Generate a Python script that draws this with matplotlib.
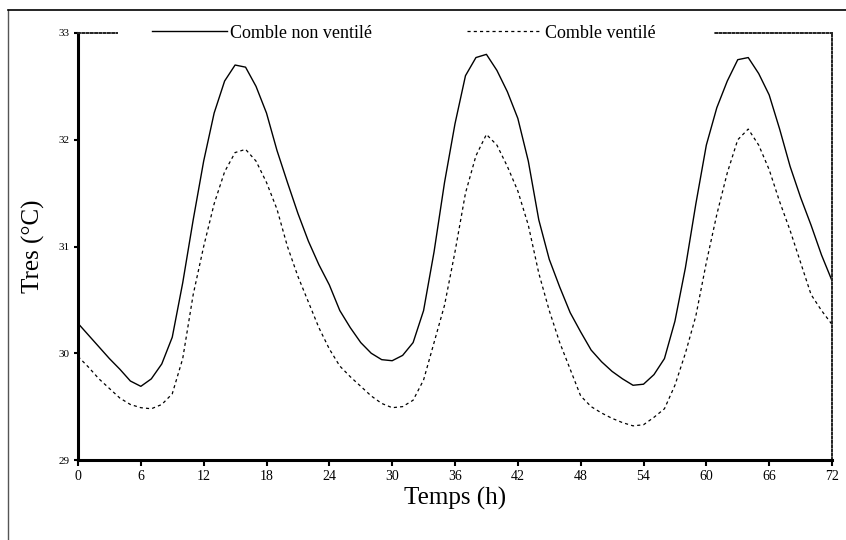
import matplotlib.pyplot as plt
from matplotlib.lines import Line2D
from matplotlib.patches import Rectangle

# hourly readings, 0 to 72 h
hours = list(range(0, 73))

non_ventile = [30.28, 30.17, 30.06, 29.95, 29.85, 29.74, 29.69, 29.76, 29.90, 30.15,
               30.66, 31.25, 31.80, 32.25, 32.55, 32.70, 32.68, 32.50, 32.25, 31.90,
               31.60, 31.31, 31.05, 30.83, 30.64, 30.40, 30.24, 30.10, 30.00, 29.94,
               29.93, 29.98, 30.10, 30.40, 30.95, 31.60, 32.15, 32.60, 32.77, 32.80,
               32.65, 32.45, 32.20, 31.80, 31.25, 30.88, 30.62, 30.38, 30.20, 30.03,
               29.92, 29.83, 29.76, 29.70, 29.71, 29.80, 29.95, 30.30, 30.80, 31.40,
               31.95, 32.30, 32.55, 32.75, 32.77, 32.62, 32.42, 32.10, 31.75, 31.46,
               31.20, 30.92, 30.68]

ventile = [29.97, 29.87, 29.76, 29.67, 29.58, 29.52, 29.49, 29.48, 29.52, 29.62,
           29.95, 30.55, 31.00, 31.40, 31.70, 31.88, 31.91, 31.80, 31.60, 31.35,
           31.00, 30.72, 30.48, 30.24, 30.04, 29.88, 29.78, 29.69, 29.60, 29.53,
           29.49, 29.50, 29.56, 29.75, 30.10, 30.45, 30.95, 31.50, 31.85, 32.05,
           31.95, 31.75, 31.52, 31.20, 30.75, 30.40, 30.10, 29.85, 29.60, 29.50,
           29.44, 29.39, 29.35, 29.32, 29.33, 29.40, 29.48, 29.70, 30.00, 30.35,
           30.85, 31.30, 31.69, 32.00, 32.10, 31.95, 31.72, 31.42, 31.15, 30.85,
           30.55, 30.40, 30.27]

x_ticks = list(range(0, 73, 6))
y_ticks = [29, 30, 31, 32, 33]

plt.rcParams['font.family'] = ['Liberation Serif', 'DejaVu Serif']

fig = plt.figure(figsize=(8.46, 5.4), dpi=100)
ax = fig.add_axes([78 / 846, 1 - 460 / 540, 754 / 846, 427 / 540])

ax.plot(hours, non_ventile, color='black', lw=1.0, label='Comble non ventilé')
ax.plot(hours, ventile, color='black', lw=0.9, dashes=(2.5, 2.5), label='Comble ventilé')

ax.set_xlim(0, 72)
ax.set_ylim(29, 33)
ax.set_xticks(x_ticks)
ax.set_yticks(y_ticks)
ax.tick_params(axis='x', direction='out', length=4, width=1.5, labelsize=10, pad=3)
ax.tick_params(axis='y', direction='out', length=3, width=1.5, labelsize=8, pad=3)

for side in ['left', 'bottom']:
    ax.spines[side].set_linewidth(2.2)
for side in ['top', 'right']:
    ax.spines[side].set_linewidth(1.4)
    ax.spines[side].set_linestyle((0, (1, 1.2)))
    ax.spines[side].set_color('#222222')

ax.set_xlabel('Temps (h)', fontsize=18, labelpad=3)
ax.set_ylabel('Tres (°C)', fontsize=18, labelpad=10)

# white strip hiding the top border behind the legend
ax.add_patch(Rectangle((0.053, 0.985), 0.79, 0.03, transform=ax.transAxes,
                       facecolor='white', edgecolor='none', clip_on=False, zorder=3))

leg = ax.legend(loc='center', bbox_to_anchor=(0.432, 1.0), ncol=2, frameon=False,
                fontsize=13, handlelength=4.15, handletextpad=0.15, columnspacing=5.3,
                borderpad=0.3, borderaxespad=0)
leg.set_zorder(4)

# page frame around the scanned figure
fig.add_artist(Line2D([8 / 846, 8 / 846], [0, 1 - 10 / 540], color='#555555', lw=1.0))
fig.add_artist(Line2D([8 / 846, 1], [1 - 10 / 540, 1 - 10 / 540], color='black', lw=1.2))

fig.savefig('out.png', dpi=100)
